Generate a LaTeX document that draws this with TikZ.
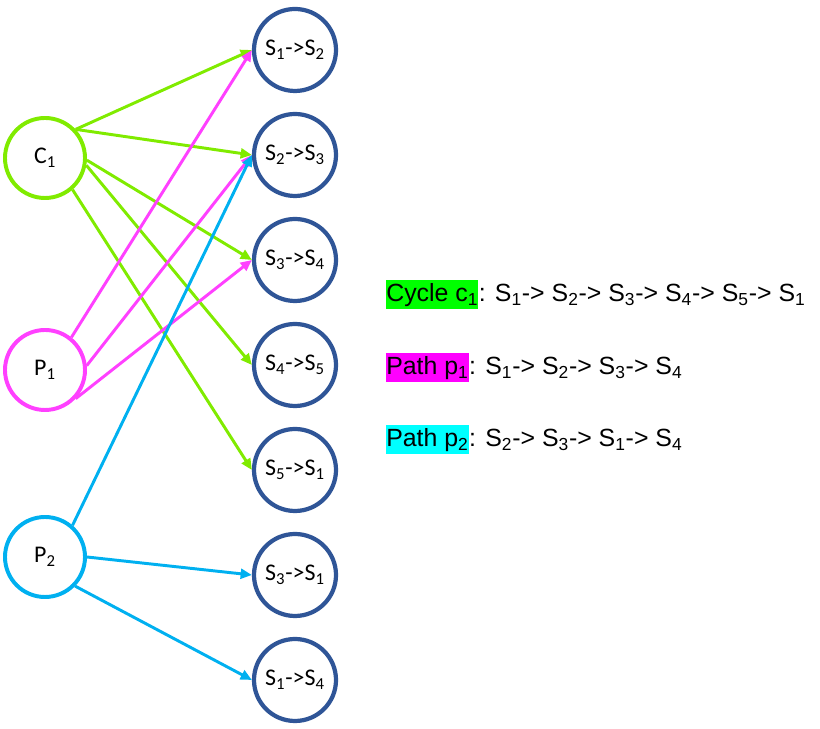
\documentclass[tikz,border=0pt]{standalone}
\usepackage{fontspec}
\setmainfont{Carlito}
\newfontfamily\arialfont{Liberation Sans}
\usetikzlibrary{arrows.meta,positioning}

\definecolor{limeline}{RGB}{128,235,0}
\definecolor{pinkline}{RGB}{255,64,255}
\definecolor{skyline}{RGB}{0,176,240}
\definecolor{navyring}{RGB}{47,85,151}
\definecolor{hlgreen}{RGB}{0,255,0}
\definecolor{hlpink}{RGB}{255,0,255}
\definecolor{hlcyan}{RGB}{0,255,255}

\begin{document}
\begin{tikzpicture}[
    state/.style={circle, draw=navyring, line width=3pt, minimum size=2.05cm, inner sep=0pt, font=\fontsize{17}{20}\selectfont},
    walk/.style={circle, draw=#1, line width=2.8pt, minimum size=2cm, inner sep=0pt, font=\fontsize{17}{20}\selectfont},
    edge/.style={->, draw=#1, line width=2.1pt},
    hl/.style={fill=#1, inner xsep=0pt, inner ysep=0pt, text height=15.5pt, text depth=4.8pt, anchor=base west, font=\arialfont\fontsize{17.7}{21}\selectfont},
    seq/.style={inner sep=0pt, anchor=base west, font=\arialfont\fontsize{17.7}{21}\selectfont},
    >={Triangle[length=8pt, width=7pt]}
]
    \useasboundingbox (0,0) rectangle (20.5,18.225);

    % transition nodes
    \node[state] (s12) at (7.375,16.975) {S\textsubscript{1}->S\textsubscript{2}};
    \node[state] (s23) at (7.375,14.35)  {S\textsubscript{2}->S\textsubscript{3}};
    \node[state] (s34) at (7.375,11.725) {S\textsubscript{3}->S\textsubscript{4}};
    \node[state] (s45) at (7.375,9.1)    {S\textsubscript{4}->S\textsubscript{5}};
    \node[state] (s51) at (7.375,6.475)  {S\textsubscript{5}->S\textsubscript{1}};
    \node[state] (s31) at (7.375,3.85)   {S\textsubscript{3}->S\textsubscript{1}};
    \node[state] (s14) at (7.375,1.225)  {S\textsubscript{1}->S\textsubscript{4}};

    % cycle and paths
    \node[walk=limeline] (c1) at (1.125,14.275) {C\textsubscript{1}};
    \node[walk=pinkline] (p1) at (1.125,8.975)  {P\textsubscript{1}};
    \node[walk=skyline]  (p2) at (1.125,4.3)    {P\textsubscript{2}};

    % edges (start angle / target)
    \foreach \a/\t in {43/s12, 43/s23, -3/s34, -10/s45, -49/s51}
        \draw[edge=limeline] (c1.\a) -- (\t.west);
    \foreach \a/\t in {51/s12, 6/s23, -43/s34}
        \draw[edge=pinkline] (p1.\a) -- (\t.west);
    \foreach \a/\t in {49/s23, 0/s31, -44/s14}
        \draw[edge=skyline] (p2.\a) -- (\t.west);

    % legend
    \node[hl=hlgreen] (cyc) at (9.65,10.675) {Cycle c\textsubscript{1}};
    \node[seq] at (cyc.base east) {: S\textsubscript{1}-> S\textsubscript{2}-> S\textsubscript{3}-> S\textsubscript{4}-> S\textsubscript{5}-> S\textsubscript{1}};
    \node[hl=hlpink] (pa1) at (9.65,8.85) {Path p\textsubscript{1}};
    \node[seq] at (pa1.base east) {: S\textsubscript{1}-> S\textsubscript{2}-> S\textsubscript{3}-> S\textsubscript{4}};
    \node[hl=hlcyan] (pa2) at (9.65,7.05) {Path p\textsubscript{2}};
    \node[seq] at (pa2.base east) {: S\textsubscript{2}-> S\textsubscript{3}-> S\textsubscript{1}-> S\textsubscript{4}};

\end{tikzpicture}
\end{document}
